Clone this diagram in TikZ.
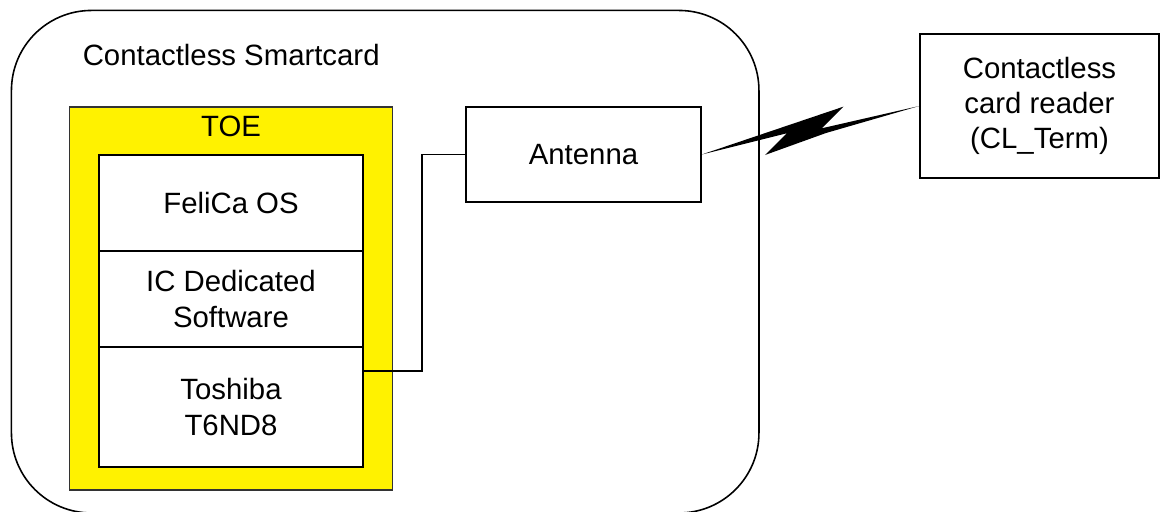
\documentclass[tikz,border=0pt]{standalone}
\usepackage{fontspec}
\setmainfont{Liberation Sans}
\begin{document}
\begin{tikzpicture}[scale=0.2,line width=0.9pt,
  every node/.style={font=\fontsize{16.7}{20}\selectfont,align=center,inner sep=0pt},
  part/.style={draw=black,fill=white,minimum width=5.28cm}]
\useasboundingbox (0,0) rectangle (116,-51.1);
% smartcard frame
\node [draw=black,rounded corners=1.6cm,minimum width=14.95cm,minimum height=10.05cm] (card) at (38.52,-26.17) {};
\node [anchor=base west] (cardlbl) at (8.2,-6.5) {Contactless Smartcard};
% TOE
\node [draw=black!80,line width=0.6pt,fill=yellow,minimum width=6.47cm,minimum height=7.66cm] (toe) at (23.1,-29.85) {};
\node [anchor=base] (toelbl) at (23.1,-13.67) {TOE};
\node [part,minimum height=1.92cm] (os) at (23.1,-20.3) {FeliCa OS};
\node [part,minimum height=1.92cm] (icsw) at (23.1,-29.9) {IC Dedicated\\Software};
\node [part,minimum height=2.4cm] (chip) at (23.1,-40.7) {Toshiba\\T6ND8};
% antenna and reader
\node [draw=black,minimum width=4.7cm,minimum height=1.9cm] (ant) at (58.35,-15.45) {Antenna};
\node [draw=black,minimum width=4.78cm,minimum height=2.88cm] (rdr) at (103.95,-10.6) {Contactless\\card reader\\(CL\_Term)};
% wiring
\coordinate (bend) at (42.2,-37.1);
\draw [black] (chip.east |- bend) -- (bend) |- (ant.west);
% radio link
\fill [black] (ant.east) -- (84.33,-10.67) -- (82.17,-12.83) -- (rdr.west)
  -- (82.6,-13.3) -- (76.5,-15.5) -- (78.67,-13.33) -- cycle;
\end{tikzpicture}
\end{document}
